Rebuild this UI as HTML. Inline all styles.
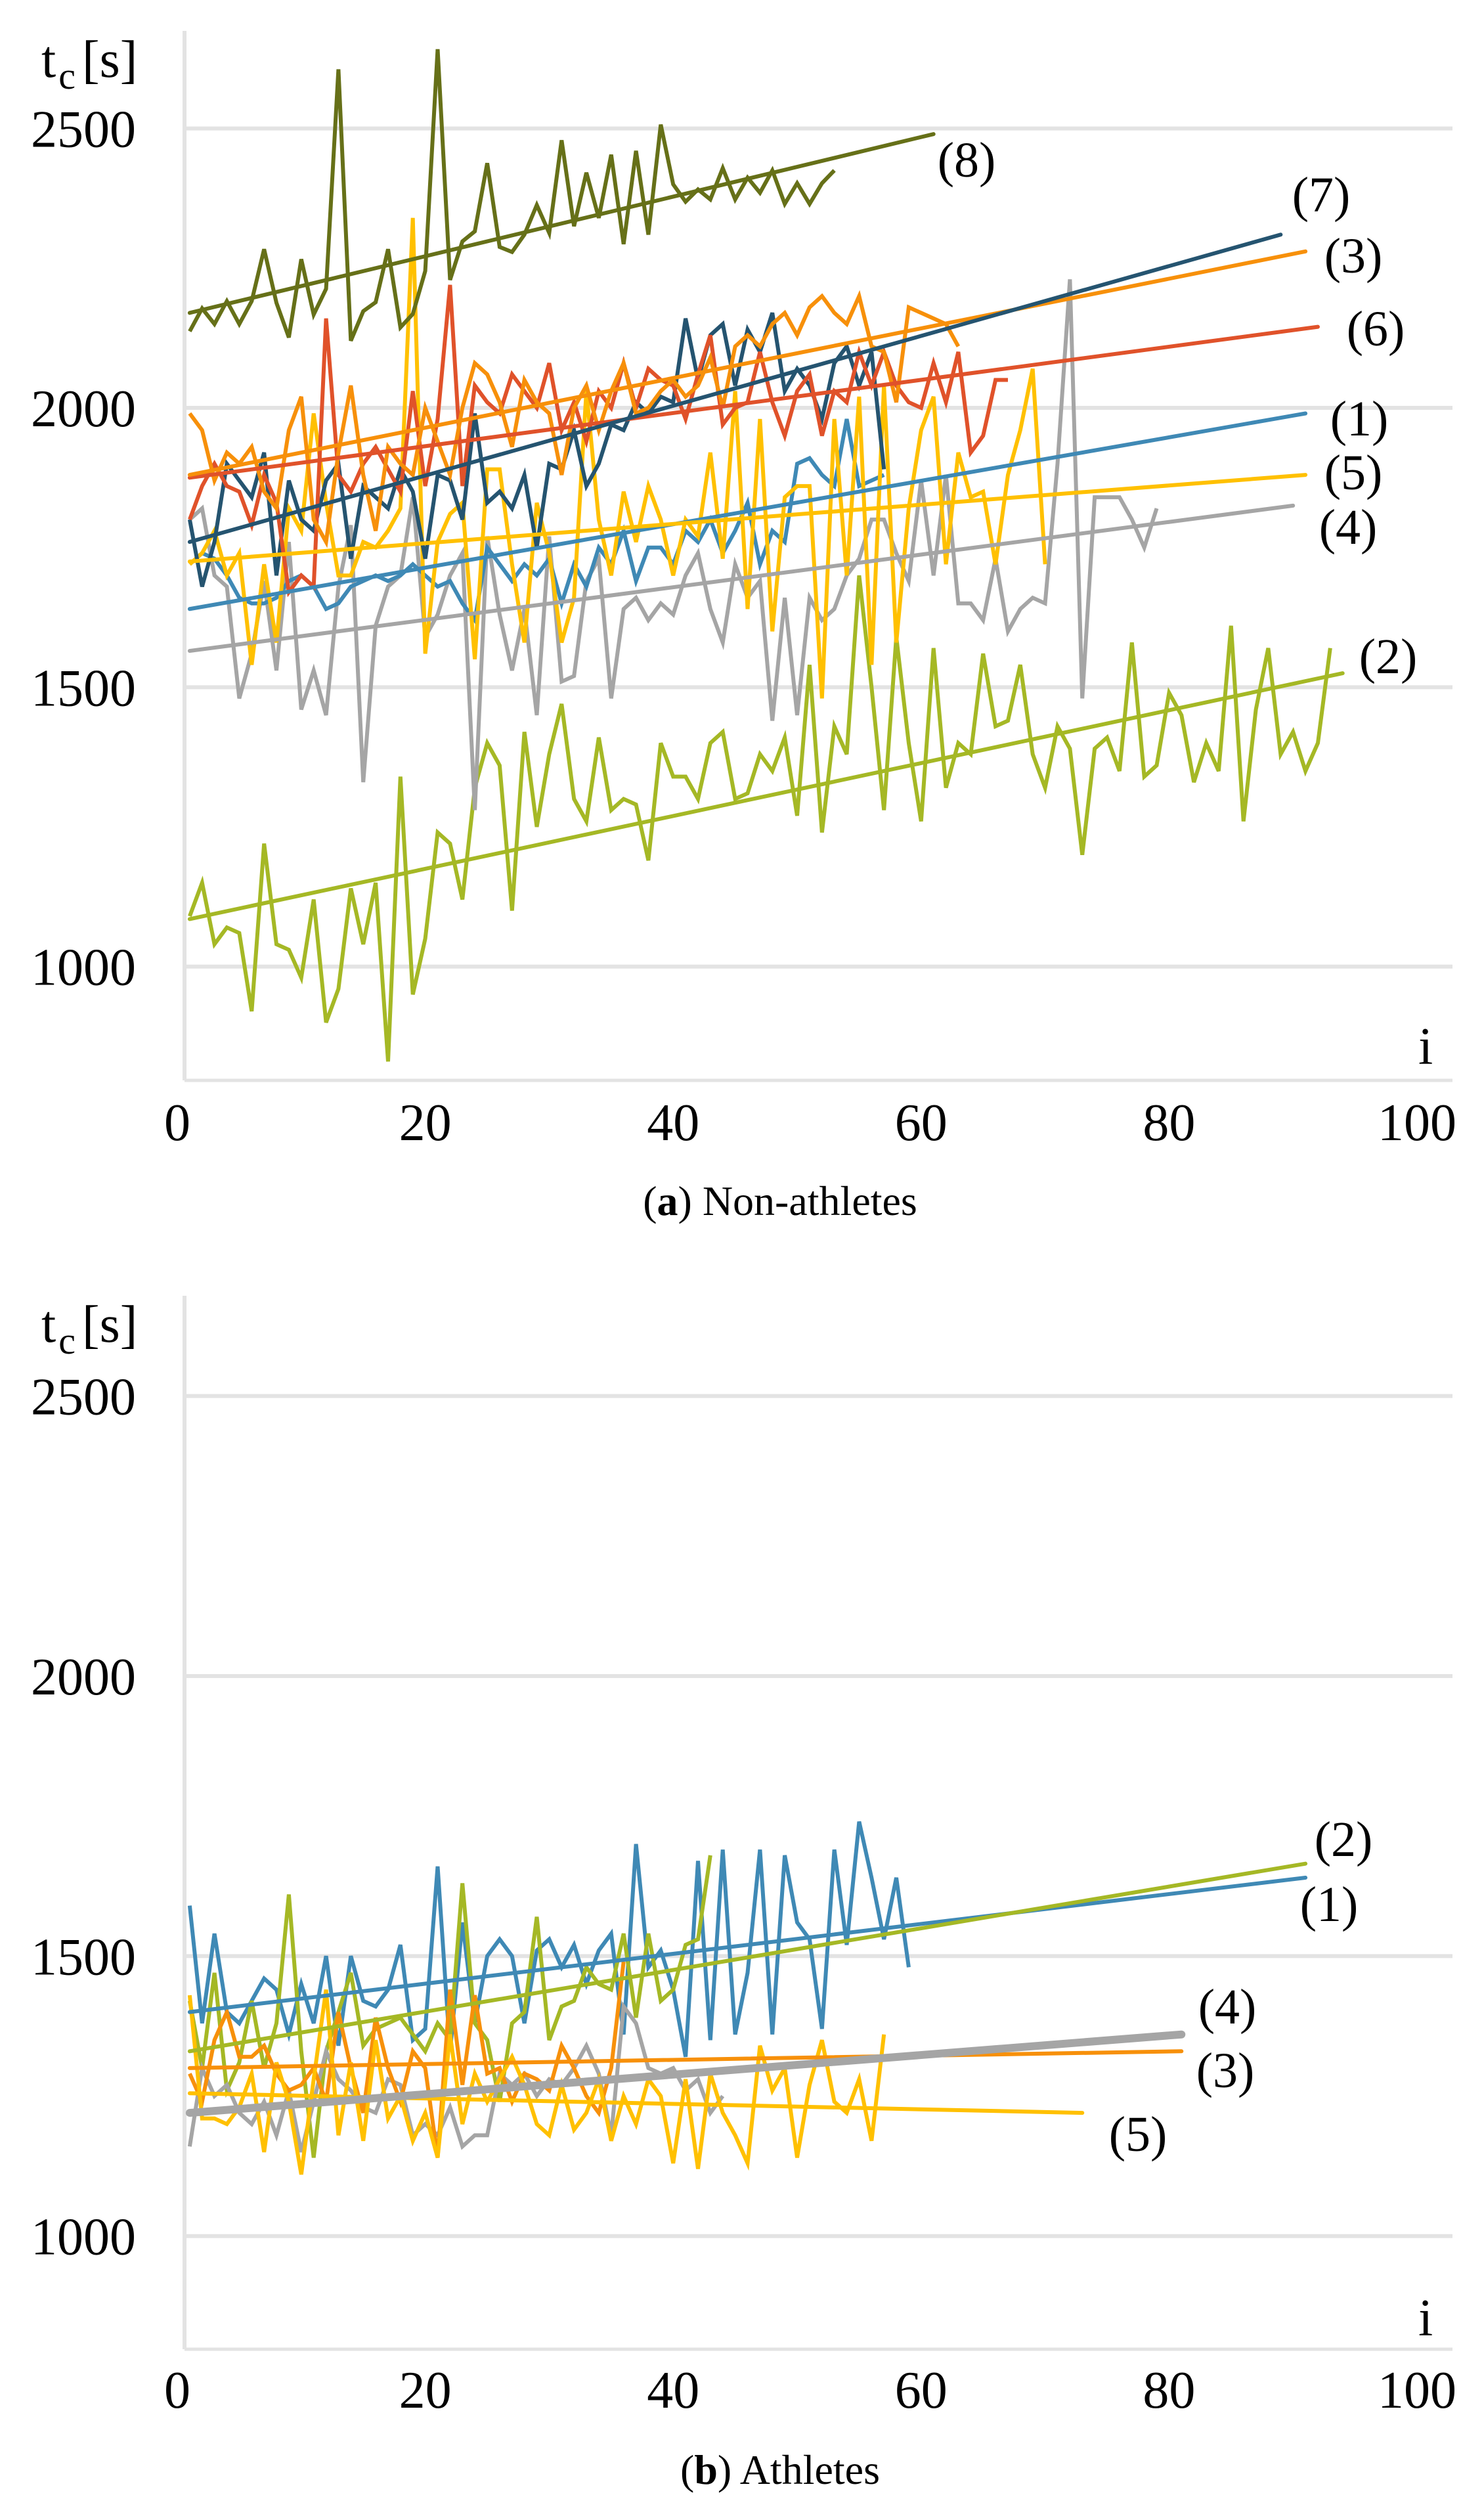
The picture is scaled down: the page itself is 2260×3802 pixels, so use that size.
<!DOCTYPE html>
<html><head><meta charset="utf-8"><style>
html,body{margin:0;padding:0;background:#fff}
svg{display:block}
text{font-family:"Liberation Serif",serif;fill:#000}
</style></head><body>
<svg id="chart" xmlns="http://www.w3.org/2000/svg" width="2260" height="3802" viewBox="0 0 2260 3802">
<g id="panelA"></g>
<g id="panelB"></g>
</svg>
<script>
// ---- Panel A data (non-athletes) ----
const a8 = [2137,2178,2150,2191,2150,2191,2284,2188,2126,2266,2167,2213,2606,2120,2173,2189,2284,2144,2168,2245,2642,2229,2298,2316,2438,2288,2279,2310,2363,2313,2479,2325,2421,2340,2453,2293,2460,2310,2507,2400,2369,2391,2373,2429,2373,2412,2385,2425,2365,2402,2365,2402,2425];
const a7 = [1800,1680,1760,1900,1870,1840,1920,1700,1870,1800,1780,1870,1900,1730,1860,1840,1820,1890,1850,1730,1880,1870,1800,1990,1830,1850,1820,1880,1750,1900,1890,1960,1860,1900,1970,1960,2010,1990,2020,2010,2160,2050,2130,2150,2040,2140,2100,2170,2030,2070,2040,1980,2080,2110,2040,2100,1890];
const a3 = [1990,1960,1870,1920,1900,1930,1850,1820,1960,2020,1800,1760,1920,2040,1880,1780,1930,1900,1880,2000,1940,1880,2000,2080,2060,2010,1930,2050,2010,1990,1880,2000,2040,1960,2030,2080,1990,2000,2030,2050,2020,2040,2090,2000,2110,2130,2110,2150,2170,2130,2180,2200,2170,2150,2200,2110,2100,2010,2180,2170,2160,2150,2110];
const a6 = [1800,1860,1900,1860,1850,1790,1880,1830,1670,1700,1680,2160,1880,1850,1900,1930,1890,1850,2030,1860,1980,2220,1860,2040,2010,1990,2060,2030,2000,2080,1960,2010,1940,2030,2000,2080,2000,2070,2050,2040,1980,2060,2130,1970,2000,2010,2100,2010,1950,2030,2060,1950,2030,2010,2100,2040,2100,2040,2010,2000,2080,2010,2100,1920,1950,2050,2050];
const a1 = [1720,1740,1730,1700,1660,1650,1650,1660,1690,1700,1680,1640,1650,1680,1690,1700,1690,1700,1720,1700,1680,1690,1650,1620,1750,1720,1690,1720,1700,1730,1650,1720,1680,1750,1720,1780,1690,1750,1750,1720,1780,1760,1800,1740,1780,1830,1720,1780,1760,1900,1910,1880,1860,1980,1860,1870,1880];
const a5 = [1720,1740,1780,1700,1740,1540,1720,1580,1820,1780,1990,1830,1700,1700,1760,1750,1780,1820,2340,1560,1760,1810,1830,1550,1890,1890,1720,1580,1830,1740,1580,1660,2030,1800,1700,1850,1760,1860,1800,1700,1800,1770,1920,1730,2030,1640,1980,1600,1840,1860,1860,1480,1980,1700,2020,1540,2040,1580,1820,1960,2020,1720,1920,1840,1850,1720,1880,1960,2070,1720];
const a4 = [1800,1820,1700,1680,1480,1560,1690,1530,1760,1460,1530,1450,1680,1790,1330,1610,1680,1700,1840,1590,1630,1700,1740,1280,1770,1630,1530,1640,1450,1770,1510,1520,1690,1730,1480,1640,1660,1620,1650,1630,1700,1740,1640,1580,1720,1660,1690,1440,1660,1450,1660,1620,1640,1700,1730,1800,1800,1740,1690,1870,1700,1880,1650,1650,1620,1730,1600,1640,1660,1650,1900,2230,1480,1840,1840,1840,1800,1750,1820];
const a2 = [1090,1150,1040,1070,1060,920,1220,1040,1030,980,1120,900,960,1140,1040,1150,830,1340,950,1050,1240,1220,1120,1320,1400,1360,1100,1420,1250,1380,1470,1300,1260,1410,1280,1300,1290,1190,1400,1340,1340,1300,1400,1420,1300,1310,1380,1350,1410,1270,1540,1240,1430,1380,1700,1500,1280,1590,1400,1260,1570,1320,1400,1380,1560,1430,1440,1540,1380,1320,1430,1390,1200,1390,1410,1350,1580,1340,1360,1490,1450,1330,1400,1350,1610,1260,1460,1570,1380,1420,1350,1400,1570];
const a8t=[1,2170,61,2490], a7t=[1,1760,89,2310], a3t=[1,1880,91,2280], a6t=[1,1875,92,2145];
const a1t=[1,1640,91,1990], a5t=[1,1725,91,1880], a4t=[1,1565,90,1825], a2t=[1,1085,94,1525];
// ---- Panel B data (athletes) ----
const b1 = [1590,1380,1540,1400,1380,1420,1460,1440,1360,1450,1380,1500,1340,1500,1420,1410,1440,1520,1350,1370,1660,1330,1560,1380,1500,1530,1500,1380,1510,1530,1480,1520,1450,1510,1540,1360,1700,1480,1510,1440,1320,1670,1350,1690,1360,1470,1690,1360,1680,1560,1530,1370,1690,1520,1740,1640,1530,1640,1480];
const b2 = [1420,1300,1470,1260,1310,1420,1300,1380,1610,1330,1140,1330,1400,1470,1340,1370,1380,1390,1360,1330,1380,1350,1630,1380,1350,1240,1380,1400,1570,1350,1410,1420,1480,1450,1440,1540,1390,1540,1420,1440,1520,1530,1680];
const b4 = [1160,1300,1250,1270,1220,1200,1240,1180,1260,1150,1240,1330,1280,1260,1230,1220,1280,1270,1180,1200,1180,1230,1160,1180,1180,1290,1270,1290,1250,1280,1270,1300,1340,1290,1180,1410,1380,1300,1290,1300,1260,1280,1220,1250];
const b3 = [1290,1240,1350,1400,1320,1320,1340,1290,1260,1270,1300,1240,1400,1300,1220,1390,1300,1240,1330,1300,1140,1440,1270,1430,1290,1300,1240,1290,1280,1260,1340,1300,1250,1220,1300,1490];
const b5 = [1430,1210,1210,1200,1230,1290,1150,1310,1240,1110,1280,1440,1180,1310,1170,1350,1210,1250,1170,1220,1140,1360,1200,1290,1240,1280,1320,1270,1200,1180,1270,1190,1220,1280,1170,1250,1200,1280,1250,1130,1280,1120,1290,1220,1180,1130,1340,1260,1300,1140,1270,1350,1240,1220,1280,1170,1360];
const b1t=[1,1400,91,1640], b2t=[1,1330,91,1665], b4t=[1,1220,81,1360], b3t=[1,1300,81,1330], b5t=[1,1255,73,1220];
const yTicks = [1000,1500,2000,2500];
const xTicks = [0,20,40,60,80,100];

const NS="http://www.w3.org/2000/svg";
const xS = i => 270 + i*18.88;
const yA = v => 621 - (v-2000)*0.8507;
const yB = v => 2552 - (v-2000)*0.8527;

function mk(parent, tag, attrs, txt){
  const e=document.createElementNS(NS,tag);
  for(const k in attrs) e.setAttribute(k,attrs[k]);
  if(txt!==undefined) e.textContent=txt;
  parent.appendChild(e); return e;
}
function frame(g, ys, top, bottom, xLabY, capY, capBold, capRest, iY){
  for(const t of yTicks){
    const l=mk(g,'line',{x1:282,x2:2212,y1:ys(t),y2:ys(t),stroke:'#e3e3e3','stroke-width':6});
    
    
    const tx=mk(g,'text',{x:207,y:ys(t)+28,'font-size':80,'text-anchor':'end'},String(t));
    
    
  }
  const ax=mk(g,'line',{x1:281,x2:281,y1:top,y2:bottom,stroke:'#e3e3e3','stroke-width':6});
  
  
  const bx=mk(g,'line',{x1:281,x2:2212,y1:bottom,y2:bottom,stroke:'#e3e3e3','stroke-width':5});
  
  
  for(const t of xTicks){
    const tx=mk(g,'text',{x:xS(t),y:xLabY,'font-size':80,'text-anchor':'middle'},String(t));
    
    
  }
  const yt=mk(g,'text',{x:63,y:top+70,'font-size':80});
  
  
  mk(yt,'tspan',{},'t');
  mk(yt,'tspan',{dx:4,dy:18,'font-size':58},'c');
  mk(yt,'tspan',{dx:10,dy:-18},'[s]');
  const it=mk(g,'text',{x:2160,y:iY,'font-size':80},'i');
  
  
  const cap=mk(g,'text',{x:1188,y:capY,'font-size':64,'text-anchor':'middle'});
  
  
  mk(cap,'tspan',{},'(');
  mk(cap,'tspan',{'font-weight':'bold'},capBold);
  mk(cap,'tspan',{},') '+capRest);
}
function series(g, ys, vals, color, name, w){
  const pts=vals.map((v,k)=>xS(k+1).toFixed(1)+','+ys(v).toFixed(1)).join(' ');
  const p=mk(g,'polyline',{points:pts,fill:'none',stroke:color,'stroke-width':w||6,'stroke-linejoin':'miter'});
  
  
}
function trend(g, ys, t, color, name, w){
  const l=mk(g,'line',{x1:xS(t[0]),y1:ys(t[1]),x2:xS(t[2]),y2:ys(t[3]),stroke:color,'stroke-width':w||6,'stroke-linecap':'round'});
  
  
}
function label(g,x,y,txt){
  const t=mk(g,'text',{x:x,y:y+26,'font-size':76,'text-anchor':'middle'},txt);
  
  
}
const C={olive:'#667018',navy:'#255470',orange:'#F7900A',red:'#E0522A',blue:'#3F89B5',yellow:'#FFC000',gray:'#A5A5A5',green:'#A5B825'};

const A=document.getElementById('panelA');
frame(A,yA,47,1645,1736,1850,'a','Non-athletes',1620);
series(A,yA,a2,C.green,'series-2-line'); series(A,yA,a4,C.gray,'series-4-line');
series(A,yA,a1,C.blue,'series-1-line'); series(A,yA,a5,C.yellow,'series-5-line');
series(A,yA,a7,C.navy,'series-7-line'); series(A,yA,a6,C.red,'series-6-line');
series(A,yA,a3,C.orange,'series-3-line'); series(A,yA,a8,C.olive,'series-8-line');
trend(A,yA,a2t,C.green,'trend-2'); trend(A,yA,a4t,C.gray,'trend-4'); trend(A,yA,a1t,C.blue,'trend-1');
trend(A,yA,a5t,C.yellow,'trend-5'); trend(A,yA,a6t,C.red,'trend-6'); trend(A,yA,a3t,C.orange,'trend-3');
trend(A,yA,a7t,C.navy,'trend-7'); trend(A,yA,a8t,C.olive,'trend-8');
label(A,1472,243,'(8)'); label(A,2012,296,'(7)'); label(A,2061,389,'(3)'); label(A,2095,500,'(6)');
label(A,2070,637,'(1)'); label(A,2061,719,'(5)'); label(A,2053,802,'(4)'); label(A,2114,999,'(2)');

const B=document.getElementById('panelB');
frame(B,yB,1973,3577,3666,3782,'b','Athletes',3556);
series(B,yB,b1,C.blue,'series-1-line'); series(B,yB,b2,C.green,'series-2-line');
series(B,yB,b4,C.gray,'series-4-line'); series(B,yB,b3,C.orange,'series-3-line');
series(B,yB,b5,C.yellow,'series-5-line');
trend(B,yB,b5t,C.yellow,'trend-5'); trend(B,yB,b3t,C.orange,'trend-3');
trend(B,yB,b4t,C.gray,'trend-4',12); trend(B,yB,b1t,C.blue,'trend-1'); trend(B,yB,b2t,C.green,'trend-2');
label(B,2046,2800,'(2)'); label(B,2024,2899,'(1)'); label(B,1869,3055,'(4)'); label(B,1866,3152,'(3)'); label(B,1733,3249,'(5)');
</script>
</body></html>
